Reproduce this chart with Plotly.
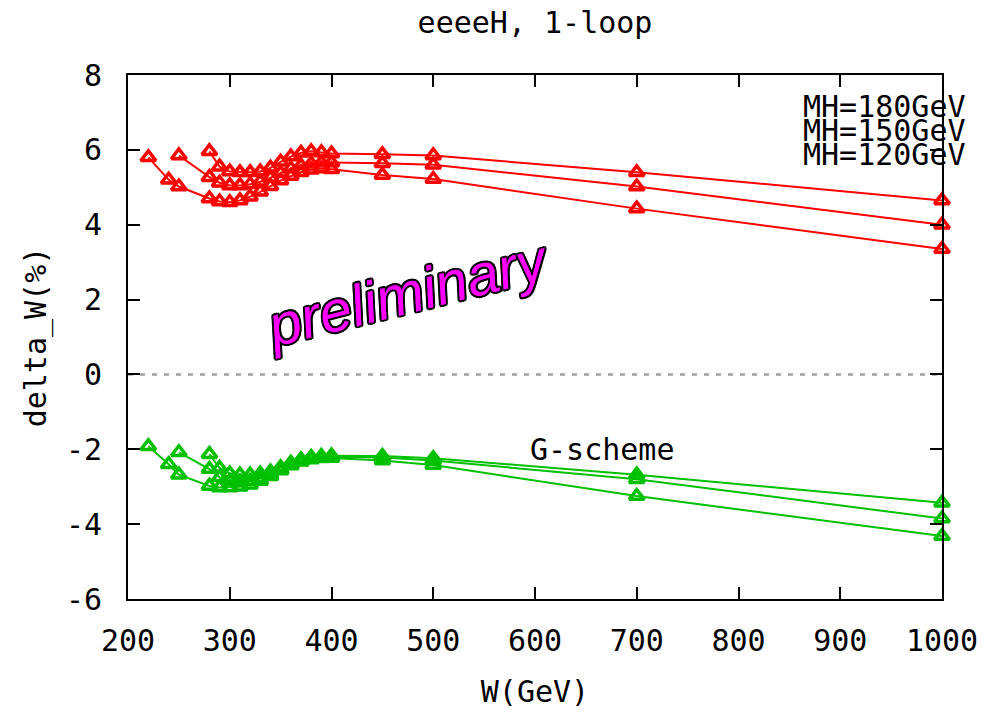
import plotly.graph_objects as go

# ---- data ----
w_120 = [220, 240, 250, 280, 290, 300, 310, 320, 330, 340, 350, 360, 370, 380, 390, 400, 450, 500, 700, 1000]
w_150 = [250, 280, 290, 300, 310, 320, 330, 340, 350, 360, 370, 380, 390, 400, 450, 500, 700, 1000]
w_180 = [280, 290, 300, 310, 320, 330, 340, 350, 360, 370, 380, 390, 400, 450, 500, 700, 1000]

alpha_120 = [5.80, 5.20, 5.02, 4.70, 4.62, 4.60, 4.65, 4.75, 4.88, 5.03, 5.18, 5.30, 5.40, 5.47, 5.50, 5.48, 5.33, 5.22, 4.43, 3.35]
alpha_150 = [5.85, 5.27, 5.12, 5.05, 5.05, 5.08, 5.15, 5.25, 5.38, 5.50, 5.58, 5.63, 5.66, 5.66, 5.64, 5.60, 5.02, 4.00]
alpha_180 = [5.96, 5.55, 5.42, 5.40, 5.40, 5.42, 5.52, 5.68, 5.82, 5.92, 5.96, 5.93, 5.90, 5.88, 5.85, 5.40, 4.65]

g_120 = [-1.92, -2.40, -2.68, -2.98, -3.02, -3.02, -3.00, -2.95, -2.85, -2.72, -2.57, -2.43, -2.33, -2.27, -2.24, -2.23, -2.30, -2.42, -3.25, -4.32]
g_150 = [-2.08, -2.53, -2.75, -2.85, -2.87, -2.85, -2.78, -2.68, -2.55, -2.42, -2.32, -2.25, -2.21, -2.20, -2.22, -2.30, -2.80, -3.85]
g_180 = [-2.13, -2.50, -2.65, -2.68, -2.68, -2.65, -2.60, -2.48, -2.36, -2.27, -2.21, -2.18, -2.17, -2.18, -2.24, -2.68, -3.43]

x_ticks = [200, 300, 400, 500, 600, 700, 800, 900, 1000]
y_ticks = [-6, -4, -2, 0, 2, 4, 6, 8]
mh_labels = ["MH=180GeV", "MH=150GeV", "MH=120GeV"]

RED = "#ff0000"
GREEN = "#00c000"
MONO = "DejaVu Sans Mono"

fig = go.Figure()

# zero reference line
fig.add_trace(go.Scatter(x=[x_ticks[0], x_ticks[-1]], y=[0, 0], mode="lines",
                         line=dict(color="#a0a0a0", width=2.5, dash="5px,7px"),
                         showlegend=False, hoverinfo="skip"))

for xs, ys, col in [(w_120, alpha_120, RED), (w_150, alpha_150, RED), (w_180, alpha_180, RED),
                    (w_120, g_120, GREEN), (w_150, g_150, GREEN), (w_180, g_180, GREEN)]:
    fig.add_trace(go.Scatter(
        x=xs, y=ys, mode="lines+markers",
        line=dict(color=col, width=2),
        marker=dict(symbol="triangle-up-open", size=13, color=col, line=dict(color=col, width=3.5)),
        cliponaxis=False, showlegend=False))

annotations = []
for i, lab in enumerate(mh_labels):
    annotations.append(dict(text=lab, xref="paper", yref="paper", x=1.032, y=0.939 - i * 0.045,
                            xanchor="right", yanchor="middle", showarrow=False,
                            font=dict(family=MONO, size=30, color="black")))
annotations.append(dict(text="G-scheme", x=666, y=-2.0, xref="x", yref="y", showarrow=False,
                        xanchor="center", yanchor="middle",
                        font=dict(family=MONO, size=30, color="black")))
annotations.append(dict(text="preliminary", x=475, y=2.2, xref="x", yref="y", showarrow=False,
                        textangle=-14, xanchor="center", yanchor="middle",
                        font=dict(family="Liberation Sans", size=58, color="#ff00ff", style="italic",
                                  shadow="1.5px 1.5px 0 #000, -1.5px -1.5px 0 #000, 1.5px -1.5px 0 #000, -1.5px 1.5px 0 #000, 2px 0 0 #000, -2px 0 0 #000, 0 2px 0 #000, 0 -2px 0 #000")))

fig.update_layout(
    width=1001, height=715,
    margin=dict(l=128, r=59, t=75, b=114),
    paper_bgcolor="white", plot_bgcolor="white",
    font=dict(family=MONO, size=30, color="black"),
    title=dict(text="eeeeH, 1-loop", x=0.5, xref="paper", y=1 - 22 / 715, yref="container",
               xanchor="center", yanchor="middle", font=dict(family=MONO, size=30, color="black")),
    annotations=annotations,
    showlegend=False,
)
fig.update_xaxes(range=[200, 1000], tickvals=x_ticks, ticktext=[str(v) for v in x_ticks],
                 ticks="inside", ticklen=12, tickwidth=2, tickcolor="black",
                 showline=True, linewidth=2, linecolor="black", mirror="ticks",
                 showgrid=False, zeroline=False, ticklabelstandoff=14,
                 tickfont=dict(family=MONO, size=30, color="black"),
                 title=dict(text="W(GeV)", standoff=24, font=dict(family=MONO, size=30, color="black")))
fig.update_yaxes(range=[-6, 8], tickvals=y_ticks, ticktext=[("-" if v < 0 else "") + str(abs(v)) for v in y_ticks],
                 ticks="inside", ticklen=12, tickwidth=2, tickcolor="black",
                 showline=True, linewidth=2, linecolor="black", mirror="ticks",
                 showgrid=False, zeroline=False, ticklabelstandoff=18,
                 tickfont=dict(family=MONO, size=30, color="black"),
                 title=dict(text="delta_W(%)", standoff=10, font=dict(family=MONO, size=30, color="black")))

fig.write_html("out.html")
